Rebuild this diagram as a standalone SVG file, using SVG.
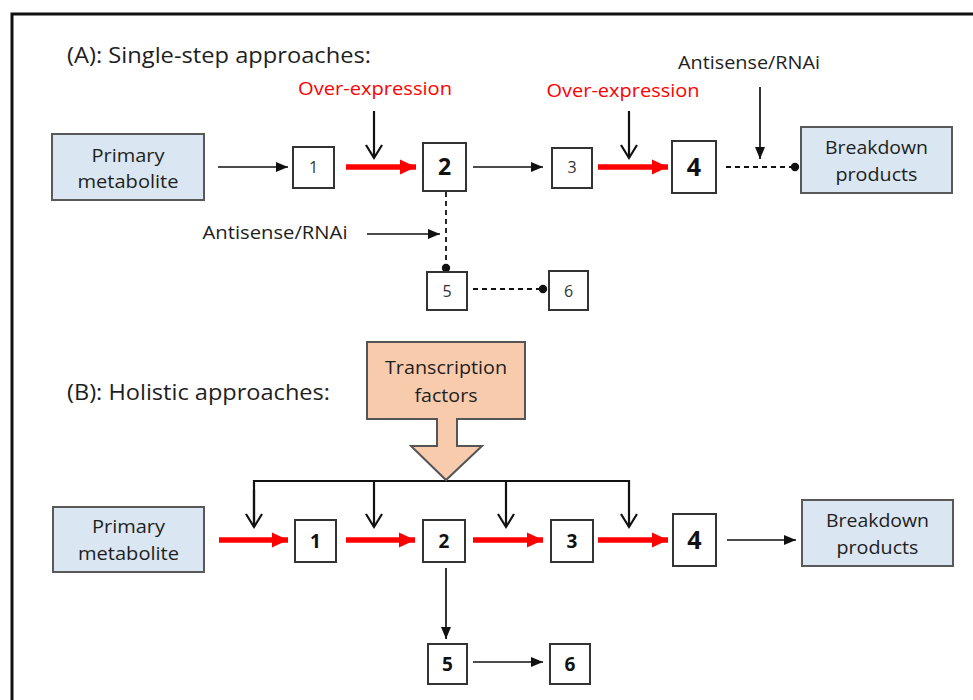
<svg xmlns="http://www.w3.org/2000/svg" width="973" height="700" viewBox="0 0 973 700">
<defs>
<marker id="ah" markerUnits="userSpaceOnUse" viewBox="0 0 12 12" refX="12" refY="6" markerWidth="12" markerHeight="12" orient="auto"><path d="M0,1 L12,6 L0,11 Z" fill="#111"/></marker>
<marker id="ahr" markerUnits="userSpaceOnUse" viewBox="0 0 16 16" refX="16" refY="8" markerWidth="16" markerHeight="16" orient="auto"><path d="M0,0.5 L16,8 L0,15.5 Z" fill="#ff0000"/></marker>
<marker id="av" markerUnits="userSpaceOnUse" viewBox="0 0 18 18" refX="15" refY="9" markerWidth="18" markerHeight="18" orient="auto"><path d="M2,1 L15,9 L2,17" fill="none" stroke="#111" stroke-width="2.2"/></marker>
<marker id="dot" markerUnits="userSpaceOnUse" viewBox="0 0 10 10" refX="5" refY="5" markerWidth="10" markerHeight="10"><circle cx="5" cy="5" r="4.2" fill="#111"/></marker>
</defs>
<style>
text{font-family:"Open Sans","Liberation Sans",sans-serif;fill:#1e1e1e;}
.t{font-size:21px;}
.lab{font-size:18.5px;text-anchor:middle;}
.red{fill:#ff0000;}
.n{font-size:16px;text-anchor:middle;fill:#333;}
.nb{font-size:19px;font-weight:bold;text-anchor:middle;fill:#111;}
.big{font-size:23px;font-weight:bold;text-anchor:middle;fill:#111;}
.big4{font-size:25px;font-weight:bold;text-anchor:middle;fill:#111;}
.box{fill:#fff;stroke:#333;stroke-width:2;}
.pb{fill:#dae6f1;stroke:#595959;stroke-width:2;}
.blk{stroke:#111;stroke-width:1.7;fill:none;}
.red-a{stroke:#ff0000;stroke-width:5.5;fill:none;}
.drop{stroke:#111;stroke-width:2.2;fill:none;}
.dash{stroke:#111;stroke-width:1.8;fill:none;stroke-dasharray:5 4;}
</style>
<rect x="0" y="0" width="973" height="700" fill="#fff"/>
<path d="M12,700 L12,14 L973,14" fill="none" stroke="#111" stroke-width="3"/>

<text class="t" x="67" y="63" textLength="304" lengthAdjust="spacingAndGlyphs">(A): Single-step approaches:</text>
<text class="t" x="67" y="400" textLength="263" lengthAdjust="spacingAndGlyphs">(B): Holistic approaches:</text>

<g id="labels">
<text class="lab red" x="375" y="95" textLength="154" lengthAdjust="spacingAndGlyphs">Over-expression</text>
<text class="lab red" x="623" y="97" textLength="153" lengthAdjust="spacingAndGlyphs">Over-expression</text>
<text class="lab" x="275" y="239" textLength="145" lengthAdjust="spacingAndGlyphs">Antisense/RNAi</text>
<text class="lab" x="749" y="69" textLength="142" lengthAdjust="spacingAndGlyphs">Antisense/RNAi</text>
</g>

<g id="connectors">
<line class="blk" x1="218" y1="167" x2="288" y2="167" marker-end="url(#ah)"/>
<line class="red-a" x1="346" y1="167" x2="416" y2="167" marker-end="url(#ahr)"/>
<line class="drop" x1="374" y1="111" x2="374" y2="158" marker-end="url(#av)"/>
<line class="blk" x1="473" y1="167" x2="543" y2="167" marker-end="url(#ah)"/>
<line class="red-a" x1="598" y1="167" x2="668" y2="167" marker-end="url(#ahr)"/>
<line class="drop" x1="629" y1="111" x2="629" y2="158" marker-end="url(#av)"/>
<line class="dash" x1="726" y1="167" x2="795" y2="167" marker-end="url(#dot)"/>
<line class="blk" x1="760" y1="87" x2="760" y2="159" marker-end="url(#ah)"/>
<line class="dash" x1="446" y1="192" x2="446" y2="268" marker-end="url(#dot)"/>
<line class="blk" x1="367" y1="234" x2="440" y2="234" marker-end="url(#ah)"/>
<line class="dash" x1="473" y1="289" x2="543" y2="289" marker-end="url(#dot)"/>

<path class="drop" d="M254,527 L254,481 L629,481 L629,527" marker-end="url(#av)"/>
<line class="drop" x1="254" y1="490" x2="254" y2="527" marker-end="url(#av)"/>
<line class="drop" x1="374" y1="481" x2="374" y2="527" marker-end="url(#av)"/>
<line class="drop" x1="506" y1="481" x2="506" y2="527" marker-end="url(#av)"/>
<line class="red-a" x1="219" y1="540" x2="288" y2="540" marker-end="url(#ahr)"/>
<line class="red-a" x1="346" y1="540" x2="415" y2="540" marker-end="url(#ahr)"/>
<line class="red-a" x1="473" y1="540" x2="543" y2="540" marker-end="url(#ahr)"/>
<line class="red-a" x1="598" y1="540" x2="668" y2="540" marker-end="url(#ahr)"/>
<line class="blk" x1="727" y1="540" x2="796" y2="540" marker-end="url(#ah)"/>
<line class="blk" x1="446" y1="568" x2="446" y2="639" marker-end="url(#ah)"/>
<line class="blk" x1="473" y1="662" x2="543" y2="662" marker-end="url(#ah)"/>
</g>

<g id="a-primary"><rect class="pb" x="52" y="134" width="152" height="66"/><text class="lab" x="128" y="162" textLength="73" lengthAdjust="spacingAndGlyphs">Primary</text><text class="lab" x="128" y="188" textLength="101" lengthAdjust="spacingAndGlyphs">metabolite</text></g>
<g id="a-1"><rect class="box" x="293" y="147" width="41" height="41"/><text class="n" x="313.5" y="173">1</text></g>
<g id="a-2"><rect class="box" x="423" y="143" width="43" height="48"/><text class="big" x="444.5" y="175">2</text></g>
<g id="a-3"><rect class="box" x="552" y="148" width="40" height="40"/><text class="n" x="572" y="173">3</text></g>
<g id="a-4"><rect class="box" x="672" y="141" width="44" height="52"/><text class="big4" x="694" y="176">4</text></g>
<g id="a-breakdown"><rect class="pb" x="801" y="127" width="151" height="66"/><text class="lab" x="876.5" y="154" textLength="103" lengthAdjust="spacingAndGlyphs">Breakdown</text><text class="lab" x="876.5" y="181" textLength="82" lengthAdjust="spacingAndGlyphs">products</text></g>
<g id="a-5"><rect class="box" x="427" y="272" width="40" height="38"/><text class="n" x="447" y="297">5</text></g>
<g id="a-6"><rect class="box" x="549" y="271" width="39" height="39"/><text class="n" x="568.5" y="297">6</text></g>

<g id="b-tf"><path d="M367,342 L525,342 L525,419 L457,419 L457,446 L482,446 L446,480 L411,446 L437,446 L437,419 L367,419 Z" fill="#f8cbad" stroke="#555" stroke-width="2" stroke-linejoin="miter"/><text class="lab" x="446" y="374" textLength="122" lengthAdjust="spacingAndGlyphs">Transcription</text><text class="lab" x="446" y="402" textLength="63" lengthAdjust="spacingAndGlyphs">factors</text></g>
<g id="b-primary"><rect class="pb" x="53" y="507" width="151" height="65"/><text class="lab" x="128.5" y="533" textLength="73" lengthAdjust="spacingAndGlyphs">Primary</text><text class="lab" x="128.5" y="560" textLength="101" lengthAdjust="spacingAndGlyphs">metabolite</text></g>
<g id="b-1"><rect class="box" x="295" y="520" width="41" height="42"/><text class="nb" x="315.5" y="548">1</text></g>
<g id="b-2"><rect class="box" x="423" y="520" width="42" height="42"/><text class="nb" x="444" y="548">2</text></g>
<g id="b-3"><rect class="box" x="551" y="520" width="42" height="42"/><text class="nb" x="572" y="548">3</text></g>
<g id="b-4"><rect class="box" x="673" y="514" width="43" height="52"/><text class="big4" x="694.5" y="549">4</text></g>
<g id="b-breakdown"><rect class="pb" x="802" y="500" width="151" height="66"/><text class="lab" x="877.5" y="527" textLength="103" lengthAdjust="spacingAndGlyphs">Breakdown</text><text class="lab" x="877.5" y="554" textLength="82" lengthAdjust="spacingAndGlyphs">products</text></g>
<g id="b-5"><rect class="box" x="428" y="644" width="39" height="40"/><text class="nb" x="447.5" y="671">5</text></g>
<g id="b-6"><rect class="box" x="550" y="644" width="40" height="40"/><text class="nb" x="570" y="671">6</text></g>
</svg>
